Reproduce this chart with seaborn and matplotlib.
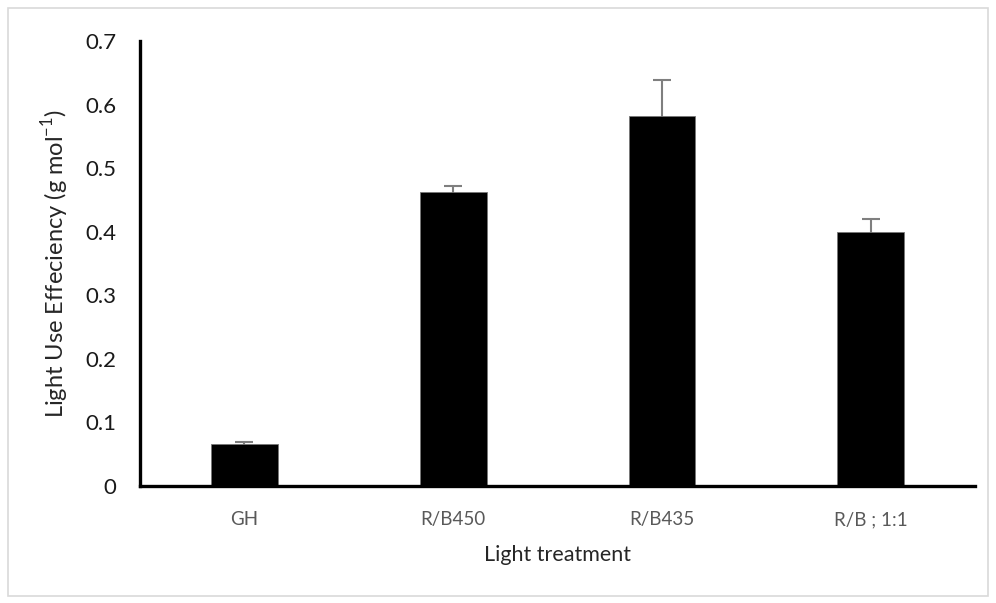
import matplotlib
matplotlib.use("Agg")
import matplotlib.pyplot as plt
import seaborn as sns
import pandas as pd
from matplotlib.patches import Rectangle

treatments = ["GH", "R/B450", "R/B435", "R/B ; 1:1"]
lue = [0.066, 0.462, 0.582, 0.399]
lue_err = [0.003, 0.010, 0.057, 0.021]

df = pd.DataFrame({"treatment": treatments, "lue": lue})

sns.set_style("white")
plt.rcParams["font.family"] = ["Lato", "DejaVu Sans"]

fig = plt.figure(figsize=(9.96, 6.03), dpi=100)
ax = fig.add_axes([0.1406, 0.194, 0.8384, 0.738])

sns.barplot(data=df, x="treatment", y="lue", color="black", width=0.32,
            saturation=1, edgecolor="#777777", linewidth=0.6, ax=ax, zorder=2)
# symmetric error bars drawn behind the bars, so only the upper half shows
ax.errorbar(range(len(treatments)), lue, yerr=lue_err,
            fmt="none", ecolor="#7f7f7f", elinewidth=1.5, capsize=6.5, capthick=1.5,
            zorder=1)

ax.set_ylim(0, 0.7)
ax.set_xlim(-0.5, 3.5)
ax.set_yticks([0, 0.1, 0.2, 0.3, 0.4, 0.5, 0.6, 0.7])
ax.set_yticklabels(["0", "0.1", "0.2", "0.3", "0.4", "0.5", "0.6", "0.7"])
ax.tick_params(axis="y", length=0, pad=17, labelsize=16, labelcolor="#1a1a1a")
ax.tick_params(axis="x", length=0, pad=18, labelsize=13.5, labelcolor="#595959")

for side in ["top", "right"]:
    ax.spines[side].set_visible(False)
for side in ["left", "bottom"]:
    ax.spines[side].set_linewidth(2.4)
    ax.spines[side].set_color("black")
    ax.spines[side].set_zorder(3)

ax.set_ylabel("Light Use Effeciency (g mol$^{\\mathregular{-1}}$)", fontsize=17, labelpad=10)
ax.set_xlabel("Light treatment", fontsize=15.5, labelpad=12)

# light grey frame around the whole picture
fig.patches.append(Rectangle((0.008, 0.012), 0.984, 0.975, transform=fig.transFigure,
                             fill=False, edgecolor="#d9d9d9", linewidth=1.2))

fig.savefig("out.png", dpi=100)
